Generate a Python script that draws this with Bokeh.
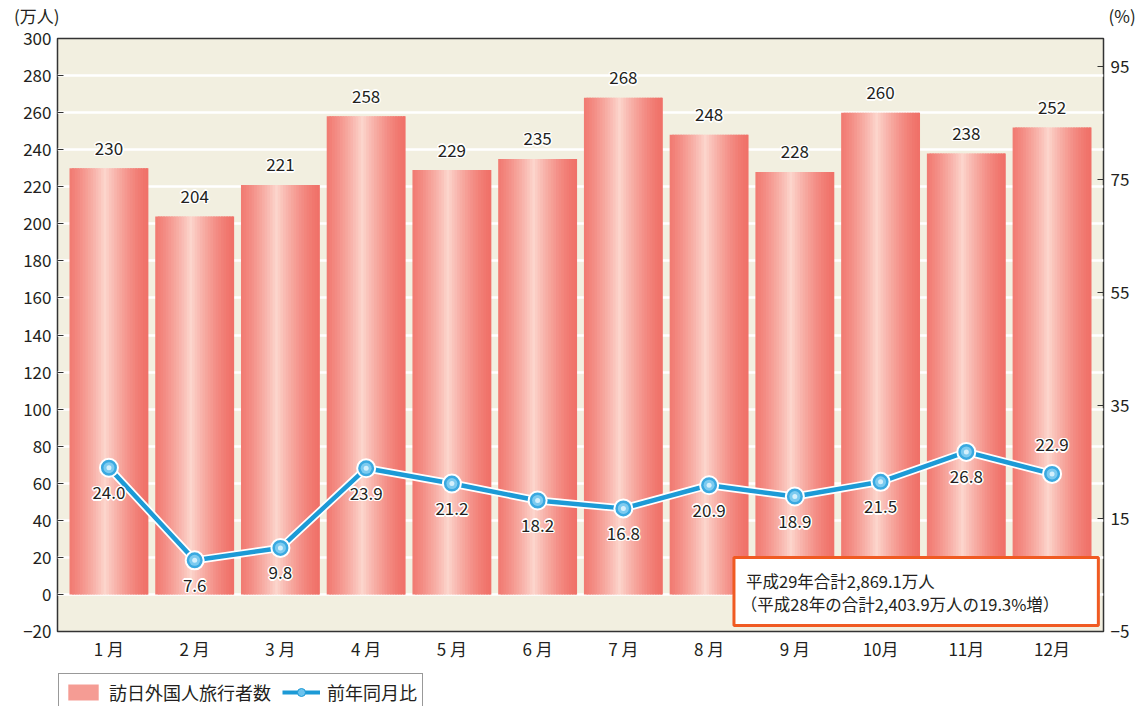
import numpy as np
from bokeh.plotting import figure
from bokeh.layouts import column
from bokeh.models import (ColumnDataSource, Range1d, LinearAxis, FixedTicker, Legend, LegendItem,
                          Label, BoxAnnotation)
from bokeh.core.properties import value
from bokeh.embed import file_html
from bokeh.resources import INLINE

months = ["1 月", "2 月", "3 月", "4 月", "5 月", "6 月", "7 月", "8 月", "9 月", "10月", "11月", "12月"]
visitors = [230, 204, 221, 258, 229, 235, 268, 248, 228, 260, 238, 252]
growth = [24.0, 7.6, 9.8, 23.9, 21.2, 18.2, 16.8, 20.9, 18.9, 21.5, 26.8, 22.9]
left_ticks = [-20, 0, 20, 40, 60, 80, 100, 120, 140, 160, 180, 200, 220, 240, 260, 280, 300]
right_ticks = [-5, 15, 35, 55, 75, 95]
left_unit = "(万人)"
right_unit = "(%)"
bar_name = "訪日外国人旅行者数"
line_name = "前年同月比"
note_lines = ["平成29年合計2,869.1万人", "（平成28年の合計2,403.9万人の19.3%増）"]

FONT = "Noto Sans CJK JP"
TXT = "#231f20"
FW = 1046
BL, BR = 57, 26

x = np.arange(1, len(months) + 1)


def style_axis(a, size="17px", standoff=6, tick_in=6, tick_color="#333333"):
    a.axis_line_color = None
    a.major_tick_in = tick_in
    a.major_tick_out = 0
    a.major_tick_line_color = tick_color
    a.minor_tick_line_color = None
    a.major_label_text_font = FONT
    a.major_label_text_font_size = size
    a.major_label_text_color = TXT
    a.major_label_standoff = standoff


# ---------- top strip: unit labels as axis labels ----------
top = figure(frame_width=FW, frame_height=28, output_backend="svg", toolbar_location=None,
             x_range=Range1d(0, 1), y_range=Range1d(0, 28),
             x_axis_location=None, y_axis_location="left",
             min_border_left=BL, min_border_right=BR, min_border_top=0, min_border_bottom=0)
top.grid.visible = False
top.outline_line_color = None
top.yaxis.ticker = FixedTicker(ticks=[13])
top.yaxis.major_label_overrides = {13: left_unit}
style_axis(top.yaxis[0], standoff=-2, tick_in=0, tick_color=None)
tr = LinearAxis(ticker=FixedTicker(ticks=[13]), major_label_overrides={13: right_unit})
style_axis(tr, standoff=5, tick_in=0, tick_color=None)
top.add_layout(tr, "right")

# ---------- main chart ----------
p = figure(frame_width=FW, frame_height=593, output_backend="svg", toolbar_location=None,
           x_range=Range1d(0.4, 12.6), y_range=Range1d(-20, 300),
           min_border_left=BL, min_border_right=BR, min_border_top=10, min_border_bottom=20)
p.background_fill_color = "#f2efe0"
p.border_fill_color = "white"
p.outline_line_color = "#333333"
p.outline_line_width = 1.5
p.extra_y_ranges = {"pct": Range1d(-5, 100)}

p.xgrid.grid_line_color = None
p.ygrid.grid_line_color = "white"
p.ygrid.grid_line_width = 2.5
p.ygrid.ticker = FixedTicker(ticks=left_ticks)

p.yaxis.ticker = FixedTicker(ticks=left_ticks)
style_axis(p.yaxis[0])

p.xaxis.ticker = FixedTicker(ticks=list(x))
p.xaxis.major_label_overrides = {int(i): m for i, m in zip(x, months)}
style_axis(p.xaxis[0], standoff=4, tick_in=0, tick_color=None)

rax = LinearAxis(y_range_name="pct", ticker=FixedTicker(ticks=right_ticks))
style_axis(rax, standoff=7)
p.add_layout(rax, "right")

# gradient bars built from overlapping strips
W = 0.92
N = 30
edge = np.array([240, 112, 104])
center = np.array([252, 213, 204])
ls, rs, tops, cols = [], [], [], []
for xi, v in zip(x, visitors):
    for k in range(N):
        t = (k + 0.5) / N
        d = abs(t - 0.45) / 0.55
        m = (1 - min(d, 1)) ** 1.4
        c = edge + (center - edge) * m
        l = xi - W / 2 + k * W / N
        r = min(l + W / N * 1.7, xi + W / 2)
        ls.append(l)
        rs.append(r)
        tops.append(v)
        cols.append("#%02x%02x%02x" % tuple(int(round(q)) for q in c))
strip_src = ColumnDataSource(dict(left=ls, right=rs, top=tops, color=cols))
p.quad(left="left", right="right", top="top", bottom=0, fill_color="color",
       line_color=None, source=strip_src)

HALO = [(-1.5, 0), (1.5, 0), (0, -1.5), (0, 1.5), (-1, -1), (1, 1), (-1, 1), (1, -1)]

bsrc = ColumnDataSource(dict(x=x, y=visitors, t=[str(v) for v in visitors]))
for dx, dy in HALO:
    p.text(x="x", y="y", text="t", source=bsrc, text_font=value(FONT), text_font_size="17px",
           text_color="white", text_align="center", text_baseline="middle",
           x_offset=dx, y_offset=-20 + dy)
p.text(x="x", y="y", text="t", source=bsrc, text_font=value(FONT), text_font_size="17px",
       text_color=TXT, text_align="center", text_baseline="middle", y_offset=-20)

# line series
lsrc = ColumnDataSource(dict(x=x, y=growth))
p.line(x="x", y="y", source=lsrc, y_range_name="pct", line_color="white", line_width=8)
p.line(x="x", y="y", source=lsrc, y_range_name="pct", line_color="#1c9ad6", line_width=4.5)
p.scatter(x="x", y="y", source=lsrc, y_range_name="pct", size=18, fill_color="#3aa9e0",
          line_color="white", line_width=2)
p.scatter(x="x", y="y", source=lsrc, y_range_name="pct", size=11, fill_color="#7ccbf0",
          line_color=None)
p.scatter(x="x", y="y", source=lsrc, y_range_name="pct", size=5, fill_color="#d4f0fc",
          line_color=None)

below = ColumnDataSource(dict(x=x[:11], y=growth[:11], t=["%.1f" % g for g in growth[:11]]))
above = ColumnDataSource(dict(x=x[11:], y=growth[11:], t=["%.1f" % g for g in growth[11:]]))
for src, yo in [(below, 25), (above, -29)]:
    for dx, dy in HALO:
        p.text(x="x", y="y", text="t", source=src, y_range_name="pct", text_font=value(FONT),
               text_font_size="17px", text_color="white", text_align="center",
               text_baseline="middle", x_offset=dx, y_offset=yo + dy)
    p.text(x="x", y="y", text="t", source=src, y_range_name="pct", text_font=value(FONT),
           text_font_size="17px", text_color=TXT, text_align="center",
           text_baseline="middle", y_offset=yo)

# note box
p.add_layout(BoxAnnotation(left=8.29, right=12.54, bottom=-16.7, top=20,
                           fill_color="white", fill_alpha=1, line_color="#f05a22",
                           line_width=3, line_alpha=1))
p.add_layout(Label(x=8.43, y=7.5, text=note_lines[0], text_font=FONT, text_font_size="16.5px",
                   text_color=TXT, text_baseline="middle"))
p.add_layout(Label(x=8.37, y=-5.4, text=note_lines[1], text_font=FONT, text_font_size="16.5px",
                   text_color=TXT, text_baseline="middle"))

# ---------- legend strip ----------
leg = figure(frame_width=FW, frame_height=48, output_backend="svg", toolbar_location=None,
             x_range=Range1d(0, 1), y_range=Range1d(0, 1),
             x_axis_location=None, y_axis_location=None,
             min_border_left=BL, min_border_right=BR, min_border_top=0, min_border_bottom=0)
leg.grid.visible = False
leg.outline_line_color = None
dsrc = ColumnDataSource(dict(x=[-10, -9], y=[-10, -10]))
r_bar = leg.quad(left="x", right="x", top="y", bottom="y", source=dsrc,
                 fill_color="#f59c94", line_color=None)
r_l = leg.line(x="x", y="y", source=dsrc, line_color="#1c9ad6", line_width=4)
r_m1 = leg.scatter(x="x", y="y", source=dsrc, size=18, fill_color="#6cc3ee",
                   line_color="#1c9ad6", line_width=1)
legend = Legend(items=[LegendItem(label=bar_name, renderers=[r_bar]),
                       LegendItem(label=line_name, renderers=[r_l, r_m1])],
                orientation="horizontal", location=(1, 0))
legend.label_text_font = FONT
legend.label_text_font_size = "18px"
legend.label_text_color = TXT
legend.glyph_width = 38
legend.glyph_height = 20
legend.label_height = 20
legend.border_line_color = "#333333"
legend.border_line_width = 1
legend.padding = 5
legend.spacing = 11
legend.label_standoff = 7
legend.margin = 0
legend.background_fill_color = "white"
legend.background_fill_alpha = 1
leg.add_layout(legend, "center")

layout = column(top, p, leg, spacing=0)
open("out.html", "w").write(file_html(layout, INLINE))
